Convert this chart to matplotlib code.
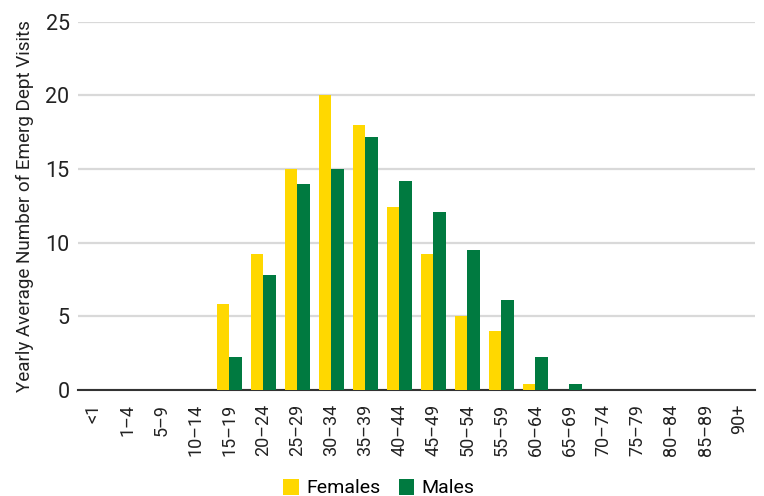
import matplotlib.pyplot as plt
import numpy as np

age_groups = ["<1", "1–4", "5–9", "10–14", "15–19", "20–24", "25–29", "30–34",
              "35–39", "40–44", "45–49", "50–54", "55–59", "60–64", "65–69",
              "70–74", "75–79", "80–84", "85–89", "90+"]
females = [0, 0, 0, 0, 5.8, 9.2, 15.0, 20.0, 18.0, 12.4, 9.2, 5.0, 4.0, 0.4,
           0, 0, 0, 0, 0, 0]
males = [0, 0, 0, 0, 2.2, 7.8, 14.0, 15.0, 17.2, 14.2, 12.1, 9.5, 6.1, 2.2,
         0.4, 0, 0, 0, 0, 0]
yticks = [0, 5, 10, 15, 20, 25]

plt.rcParams["font.family"] = ["Roboto", "DejaVu Sans"]

YELLOW = "#FFD800"
GREEN = "#007A40"

fig = plt.figure(figsize=(7.64, 4.96), dpi=100)
ax = fig.add_axes([0.102, 0.214, 0.886, 0.742])

x = np.arange(len(age_groups))
w = 0.37
ax.bar(x - w / 2, females, width=w, color=YELLOW, label="Females", zorder=3)
ax.bar(x + w / 2, males, width=w, color=GREEN, label="Males", zorder=3)

ax.set_xlim(-0.45, len(age_groups) - 0.55)
ax.set_ylim(0, 25)
ax.set_yticks(yticks)
ax.yaxis.grid(True, color="#d9d9d9", linewidth=1.6, zorder=0)
ax.set_axisbelow(True)

for s in ["top", "right", "left"]:
    ax.spines[s].set_visible(False)
ax.spines["bottom"].set_color("#333333")
ax.spines["bottom"].set_linewidth(1.5)

ax.set_xticks(x)
ax.set_xticklabels(age_groups, rotation=90, fontsize=13, color="#222222")
ax.tick_params(axis="x", length=0, pad=10)
ax.tick_params(axis="y", length=0, labelsize=15.5, labelcolor="#222222", pad=6)

ax.set_ylabel("Yearly Average Number of Emerg Dept Visits", fontsize=13.6,
              color="#222222", labelpad=8)

ax.legend(loc="lower center", bbox_to_anchor=(0.445, -0.34), ncol=2,
          frameon=False, fontsize=14, handlelength=0.8, handleheight=0.9,
          handletextpad=0.4, columnspacing=0.9)

fig.savefig("out.png", dpi=100)
